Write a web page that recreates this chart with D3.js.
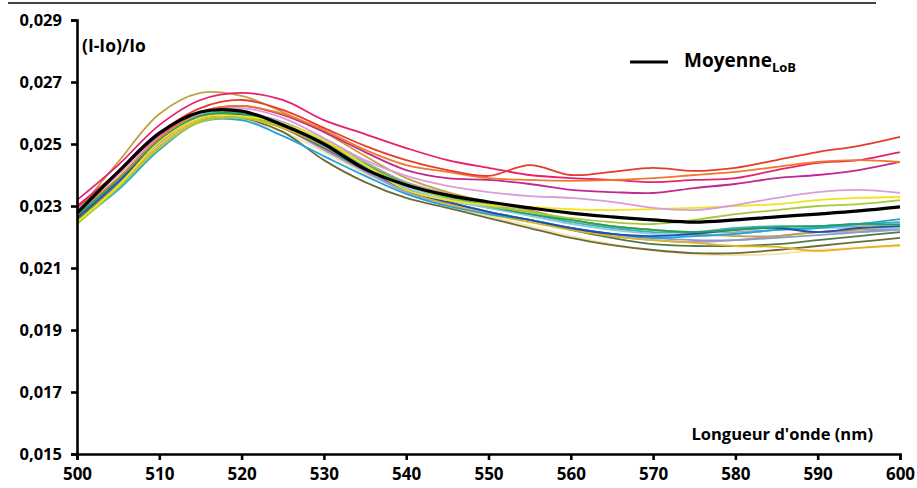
<!DOCTYPE html>
<html><head><meta charset="utf-8">
<script src="https://cdn.jsdelivr.net/npm/d3@7"></script>
<style>
html,body{margin:0;padding:0;background:#fff;}
text{font-family:"Open Sans",sans-serif;font-weight:700;fill:#000;}
</style></head>
<body><svg id="c" width="917" height="488"></svg>
<script>
const wavelengths = [500,505,510,515,520,525,530,535,540,545,550,555,560,565,570,575,580,585,590,595,600];
const xTicks = [500,510,520,530,540,550,560,570,580,590,600];
const yTicks = [0.015,0.017,0.019,0.021,0.023,0.025,0.027,0.029];
const yTickLabels = ["0,015","0,017","0,019","0,021","0,023","0,025","0,027","0,029"];

const mean = [0.02277,0.02410,0.02535,0.02603,0.02606,0.02561,0.02500,0.02419,0.02368,0.02335,0.02313,0.02294,0.02277,0.02265,0.02255,0.02248,0.02255,0.02265,0.02274,0.02284,0.02297];

const sRed = [0.02294,0.02410,0.02535,0.02616,0.02642,0.02610,0.02552,0.02494,0.02448,0.02416,0.02397,0.02432,0.02400,0.02410,0.02423,0.02413,0.02423,0.02448,0.02474,0.02494,0.02523];
const sOrange = [0.02281,0.02390,0.02519,0.02603,0.02623,0.02597,0.02545,0.02481,0.02432,0.02410,0.02390,0.02384,0.02381,0.02384,0.02390,0.02400,0.02410,0.02426,0.02442,0.02448,0.02442];
const sPink = [0.02319,0.02432,0.02561,0.02642,0.02665,0.02642,0.02577,0.02532,0.02487,0.02448,0.02423,0.02400,0.02390,0.02384,0.02377,0.02384,0.02390,0.02416,0.02439,0.02448,0.02474];
const sPurple = [0.02300,0.02410,0.02529,0.02603,0.02623,0.02594,0.02539,0.02474,0.02416,0.02390,0.02384,0.02371,0.02352,0.02345,0.02342,0.02358,0.02371,0.02390,0.02400,0.02416,0.02442];
const sLilac = [0.02287,0.02400,0.02523,0.02600,0.02616,0.02584,0.02519,0.02448,0.02397,0.02365,0.02345,0.02332,0.02326,0.02313,0.02294,0.02287,0.02303,0.02326,0.02345,0.02352,0.02342];
const sYellow = [0.02248,0.02365,0.02506,0.02584,0.02590,0.02565,0.02513,0.02432,0.02352,0.02319,0.02303,0.02297,0.02290,0.02287,0.02290,0.02294,0.02300,0.02306,0.02319,0.02326,0.02329];
const sYellowGreen = [0.02242,0.02358,0.02487,0.02571,0.02584,0.02558,0.02506,0.02432,0.02368,0.02326,0.02300,0.02281,0.02261,0.02248,0.02242,0.02255,0.02274,0.02287,0.02300,0.02306,0.02319];
const sGreen = [0.02268,0.02384,0.02513,0.02590,0.02597,0.02561,0.02506,0.02435,0.02371,0.02332,0.02300,0.02274,0.02255,0.02235,0.02223,0.02216,0.02223,0.02232,0.02235,0.02242,0.02239];
const sBlue = [0.02261,0.02377,0.02506,0.02590,0.02594,0.02558,0.02500,0.02423,0.02352,0.02313,0.02281,0.02255,0.02229,0.02210,0.02203,0.02210,0.02223,0.02229,0.02216,0.02229,0.02235];
const sCyan = [0.02248,0.02352,0.02481,0.02571,0.02577,0.02526,0.02461,0.02397,0.02339,0.02300,0.02274,0.02255,0.02229,0.02210,0.02197,0.02203,0.02210,0.02223,0.02229,0.02242,0.02258];
const sLightBlue = [0.02268,0.02377,0.02513,0.02590,0.02594,0.02561,0.02497,0.02423,0.02358,0.02319,0.02294,0.02268,0.02242,0.02223,0.02210,0.02203,0.02210,0.02223,0.02229,0.02229,0.02229];
const sTeal = [0.02274,0.02384,0.02513,0.02590,0.02597,0.02558,0.02500,0.02429,0.02365,0.02326,0.02294,0.02274,0.02248,0.02229,0.02216,0.02216,0.02229,0.02235,0.02235,0.02242,0.02248];
const sGrayBlue = [0.02261,0.02374,0.02503,0.02584,0.02590,0.02558,0.02494,0.02416,0.02352,0.02313,0.02281,0.02255,0.02229,0.02210,0.02197,0.02190,0.02190,0.02197,0.02206,0.02216,0.02229];
const sGold = [0.02248,0.02365,0.02494,0.02577,0.02584,0.02552,0.02494,0.02423,0.02352,0.02306,0.02274,0.02248,0.02223,0.02203,0.02190,0.02181,0.02171,0.02168,0.02155,0.02165,0.02174];
const sOlive = [0.02255,0.02371,0.02506,0.02590,0.02584,0.02539,0.02448,0.02377,0.02326,0.02294,0.02261,0.02229,0.02197,0.02174,0.02158,0.02148,0.02148,0.02158,0.02171,0.02184,0.02197];
const sDarkGreen = [0.02261,0.02377,0.02506,0.02584,0.02590,0.02552,0.02487,0.02416,0.02352,0.02313,0.02281,0.02255,0.02223,0.02197,0.02177,0.02171,0.02171,0.02177,0.02190,0.02203,0.02216];
const sLightYellow = [0.02242,0.02358,0.02487,0.02571,0.02577,0.02539,0.02474,0.02403,0.02339,0.02300,0.02268,0.02235,0.02203,0.02177,0.02158,0.02145,0.02142,0.02145,0.02158,0.02165,0.02171];
const sLavender = [0.02268,0.02381,0.02510,0.02590,0.02594,0.02552,0.02481,0.02410,0.02345,0.02306,0.02274,0.02255,0.02229,0.02203,0.02190,0.02184,0.02190,0.02203,0.02216,0.02216,0.02223];
const sKhaki = [0.02281,0.02442,0.02597,0.02665,0.02655,0.02603,0.02539,0.02461,0.02390,0.02345,0.02313,0.02287,0.02255,0.02235,0.02223,0.02210,0.02203,0.02203,0.02216,0.02223,0.02229];
const sGray = [0.02268,0.02384,0.02513,0.02594,0.02603,0.02571,0.02513,0.02442,0.02377,0.02339,0.02306,0.02281,0.02255,0.02235,0.02223,0.02216,0.02216,0.02223,0.02229,0.02235,0.02242];

const series = [
  {v:sLightYellow, c:"#f3e4a8"},
  {v:sGray, c:"#a8a8a8"},
  {v:sLavender, c:"#a898d6"},
  {v:sKhaki, c:"#c4a040"},
  {v:sOlive, c:"#6e6c36"},
  {v:sDarkGreen, c:"#4f7a48"},
  {v:sGold, c:"#e8b01e"},
  {v:sGrayBlue, c:"#8a9cc0"},
  {v:sTeal, c:"#3cb4b0"},
  {v:sLightBlue, c:"#8cc6ea"},
  {v:sCyan, c:"#1ea4e0"},
  {v:sBlue, c:"#1f4fa6"},
  {v:sGreen, c:"#22a35c"},
  {v:sYellowGreen, c:"#a6c93c"},
  {v:sYellow, c:"#f2e41c"},
  {v:sLilac, c:"#d89ed8"},
  {v:sPurple, c:"#c02a90"},
  {v:sPink, c:"#e8206e"},
  {v:sOrange, c:"#f0782a"},
  {v:sRed, c:"#e63c2e"}
];

const svg = d3.select("#c");
const x = d3.scaleLinear().domain([500,600]).range([77,900]);
const y = d3.scaleLinear().domain([0.015,0.029]).range([454,20]);

// top border line
svg.append("line").attr("x1",8).attr("x2",876).attr("y1",3).attr("y2",3)
  .attr("stroke","#444").attr("stroke-width",2);

const line = d3.line().x((d,i)=>x(wavelengths[i])).y(d=>y(d)).curve(d3.curveCatmullRom.alpha(0.5));

const g = svg.append("g");
series.forEach(s=>{
  g.append("path").attr("d",line(s.v)).attr("fill","none")
   .attr("stroke",s.c).attr("stroke-width",1.8).attr("stroke-linejoin","round");
});
g.append("path").attr("d",line(mean)).attr("fill","none")
  .attr("stroke","#000").attr("stroke-width",3.2);

// axes
const yAxis = d3.axisLeft(y).tickValues(yTicks).tickFormat((d,i)=>yTickLabels[i]).tickSize(6).tickPadding(9);
const ya = svg.append("g").attr("transform","translate(77,0)").call(yAxis);
ya.select(".domain").attr("stroke","#000").attr("stroke-width",2.6);
ya.selectAll(".tick line").attr("stroke","#000").attr("stroke-width",2.6);
ya.selectAll(".tick text").style("font-family","'Open Sans',sans-serif").style("font-weight","700").style("font-size","16.5px").attr("fill","#000");

const xAxis = d3.axisBottom(x).tickValues(xTicks).tickFormat(d3.format("d")).tickSize(6).tickPadding(8);
const xa = svg.append("g").attr("transform","translate(0,454)").call(xAxis);
xa.select(".domain").attr("stroke","#000").attr("stroke-width",2.6);
xa.selectAll(".tick line").attr("stroke","#000").attr("stroke-width",2.6);
xa.selectAll(".tick text").style("font-family","'Open Sans',sans-serif").style("font-weight","700").style("font-size","17px").attr("fill","#000");

// axis titles
svg.append("text").attr("x",82).attr("y",52).style("font-size","17.5px").text("(I-Io)/Io");
svg.append("text").attr("x",873).attr("y",440).attr("text-anchor","end").style("font-size","16.5px").text("Longueur d'onde (nm)");

// legend
svg.append("line").attr("x1",630).attr("x2",668).attr("y1",62).attr("y2",62).attr("stroke","#000").attr("stroke-width",3);
const lt = svg.append("text").attr("x",684).attr("y",67).style("font-size","19px");
lt.append("tspan").text("Moyenne");
lt.append("tspan").attr("dy",5).style("font-size","13px").text("LoB");
</script></body></html>
